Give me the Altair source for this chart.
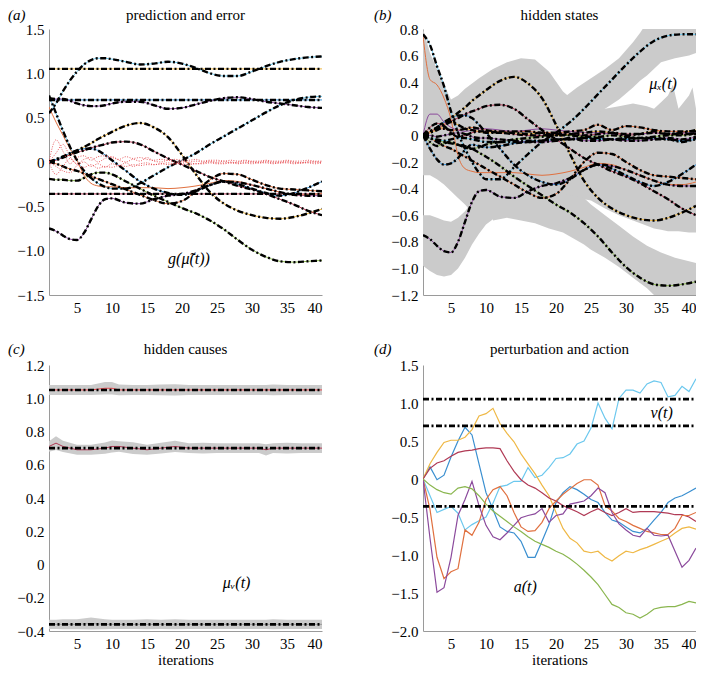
import altair as alt
import pandas as pd

FONT = "Liberation Serif"
GRAY = "#cbcbcb"
BLUE = "#3a8fd0"
ORANGE = "#e0703f"
YELLOW = "#efb845"
PURPLE = "#8b4a9c"
GREEN = "#8ab64f"
CYAN = "#6cc8ee"
MAROON = "#b03a55"
RED = "#e5484d"

W, H = 273, 266
XT = [5, 10, 15, 20, 25, 30, 35, 40]

# ---------------- shared x grid for smooth state trajectories ----------------
X = [1, 2, 3, 4, 5, 6, 7, 8, 9, 10, 12, 14, 16, 18, 20, 22, 24, 26, 28, 30, 32, 34, 36, 38, 40]

# ---------------- (b) hidden states ----------------
B1 = [0.76, 0.68, 0.52, 0.37, 0.18, 0.02, -0.10, -0.20, -0.28, -0.33, -0.33, -0.24, -0.14, -0.05, 0.02, 0.10, 0.20, 0.31, 0.42, 0.53, 0.63, 0.71, 0.75, 0.76, 0.76]
B2 = [0.00, 0.03, 0.06, 0.09, 0.13, 0.17, 0.21, 0.26, 0.30, 0.34, 0.41, 0.44, 0.39, 0.28, 0.08, -0.14, -0.34, -0.47, -0.55, -0.60, -0.63, -0.64, -0.62, -0.58, -0.53]
B3 = [0.00, 0.02, 0.05, 0.08, 0.11, 0.13, 0.16, 0.18, 0.20, 0.22, 0.23, 0.20, 0.12, 0.04, -0.03, -0.10, -0.17, -0.22, -0.27, -0.31, -0.36, -0.42, -0.48, -0.55, -0.60]
B4 = [0.00, -0.02, -0.04, -0.05, -0.06, -0.07, -0.08, -0.10, -0.13, -0.16, -0.23, -0.31, -0.38, -0.45, -0.52, -0.58, -0.66, -0.76, -0.88, -0.99, -1.07, -1.12, -1.13, -1.12, -1.10]
B5 = [-0.75, -0.78, -0.83, -0.87, -0.88, -0.80, -0.65, -0.50, -0.42, -0.41, -0.46, -0.47, -0.42, -0.38, -0.36, -0.32, -0.26, -0.22, -0.23, -0.26, -0.30, -0.34, -0.37, -0.38, -0.38]
B6 = [0.00, 0.03, 0.06, 0.10, 0.13, 0.15, 0.15, 0.13, 0.08, 0.02, -0.10, -0.22, -0.30, -0.35, -0.37, -0.33, -0.26, -0.22, -0.25, -0.30, -0.35, -0.38, -0.35, -0.29, -0.22]
B7 = [0.00, -0.02, -0.05, -0.08, -0.10, -0.13, -0.16, -0.19, -0.22, -0.25, -0.31, -0.37, -0.43, -0.47, -0.44, -0.33, -0.20, -0.13, -0.14, -0.20, -0.26, -0.30, -0.31, -0.32, -0.33]
B8 = [0.00, -0.10, -0.18, -0.22, -0.21, -0.17, -0.11, -0.07, -0.08, -0.09, -0.08, -0.06, -0.05, -0.04, -0.03, -0.03, -0.02, -0.02, -0.03, -0.03, -0.02, -0.02, -0.03, -0.04, -0.03]
N1 = [0.00, 0.03, 0.05, 0.05, 0.04, 0.04, 0.05, 0.06, 0.05, 0.04, 0.03, 0.03, 0.03, 0.02, 0.02, 0.03, 0.04, 0.08, 0.04, 0.07, 0.06, 0.04, 0.03, 0.03, 0.03]
N2 = [0.00, -0.02, -0.03, -0.04, -0.03, -0.02, -0.02, -0.03, -0.04, -0.05, -0.05, -0.05, -0.04, -0.04, -0.03, -0.03, -0.02, -0.03, -0.03, -0.02, -0.02, -0.03, -0.03, -0.05, -0.02]
N3 = [0.00, 0.06, 0.09, 0.07, 0.02, -0.01, 0.00, 0.02, 0.03, 0.03, 0.02, 0.01, 0.00, 0.00, 0.01, 0.01, 0.00, 0.01, 0.02, 0.01, 0.01, 0.02, 0.01, 0.01, 0.01]
N4 = [0.00, -0.05, -0.08, -0.06, -0.05, -0.07, -0.09, -0.10, -0.09, -0.07, -0.05, -0.03, -0.02, -0.01, 0.00, 0.00, -0.01, -0.01, 0.00, -0.01, -0.02, -0.01, 0.00, 0.00, 0.02]
N5 = [0.00, 0.02, 0.04, 0.07, 0.10, 0.08, 0.05, 0.04, 0.03, 0.02, 0.02, 0.02, 0.01, 0.02, 0.00, 0.01, 0.02, 0.03, 0.02, 0.00, 0.01, 0.03, 0.01, 0.02, 0.04]
N6 = [0.00, 0.00, -0.01, 0.00, 0.01, 0.02, 0.01, -0.01, -0.02, -0.02, -0.03, -0.04, -0.05, -0.05, -0.04, -0.02, -0.04, -0.04, -0.03, -0.04, -0.04, -0.03, -0.02, -0.03, -0.01]
O1 = [0.75, 0.42, 0.38, 0.28, 0.12, -0.15, -0.25, -0.27, -0.28, -0.28, -0.28, -0.28, -0.29, -0.30, -0.29, -0.27, -0.24, -0.21, -0.22, -0.26, -0.30, -0.34, -0.37, -0.37, -0.35]
P1 = [0.00, 0.16, 0.16, 0.10, 0.06, 0.04, 0.03, 0.04, 0.05, 0.05, 0.04, 0.03, 0.04, 0.05, 0.04, 0.03, 0.02, 0.02, 0.01, 0.00, 0.01, 0.02, 0.01, 0.02, 0.02]

# conditional uncertainty (grey) regions in (b): x, lower, upper
ZX = [1, 2, 3, 4, 5, 6, 7, 8, 9, 11, 13, 15, 17, 19, 21, 23, 25, 27, 29, 31, 33, 34, 35, 36, 36.7, 37.5, 39, 39.5, 40]
ZU = [0.80, 0.62, 0.50, 0.38, 0.27, 0.30, 0.35, 0.39, 0.43, 0.50, 0.55, 0.58, 0.57, 0.48, 0.33, 0.24, 0.20, 0.20, 0.22, 0.24, 0.22, 0.20, 0.25, 0.30, 0.38, 0.20, 0.30, 0.36, 0.20]
ZL = [-0.30, -0.30, -0.33, -0.37, -0.42, -0.47, -0.52, -0.58, -0.60, -0.58, -0.55, -0.52, -0.50, -0.48, -0.47, -0.47, -0.49, -0.55, -0.60, -0.64, -0.68, -0.70, -0.71, -0.72, -0.72, -0.72, -0.73, -0.73, -0.73]
GX = [11, 13, 15, 17, 19, 21, 23, 24, 25, 27, 29, 31, 33, 35, 37, 40]
GU = [-0.40, -0.40, -0.40, -0.40, -0.42, -0.44, -0.46, -0.47, -0.52, -0.60, -0.68, -0.76, -0.83, -0.88, -0.92, -0.96]
GL = [-0.64, -0.62, -0.64, -0.66, -0.70, -0.73, -0.79, -0.82, -0.86, -0.92, -0.99, -1.07, -1.15, -1.25, -1.30, -1.30]
PX = [1, 2, 3, 4, 5, 6, 7, 8, 9, 10, 11, 12]
PU = [-0.60, -0.60, -0.62, -0.64, -0.65, -0.62, -0.57, -0.50, -0.42, -0.38, -0.40, -0.45]
PL = [-0.98, -1.02, -1.05, -1.06, -1.05, -1.00, -0.92, -0.82, -0.74, -0.67, -0.63, -0.62]
TX = [19, 21, 23, 25, 27, 29, 31, 32, 33, 35, 37, 39, 40]
TU = [0.10, 0.28, 0.36, 0.43, 0.50, 0.58, 0.70, 0.77, 0.85, 0.90, 0.90, 0.90, 0.90]
TL = [-0.05, 0.00, 0.05, 0.14, 0.20, 0.27, 0.36, 0.41, 0.45, 0.55, 0.58, 0.60, 0.62]

# ---------------- (a) prediction and error ----------------
A1 = [0.55, 0.66, 0.80, 0.92, 1.02, 1.10, 1.15, 1.17, 1.17, 1.16, 1.13, 1.10, 1.11, 1.13, 1.11, 1.06, 1.00, 0.97, 0.97, 1.02, 1.08, 1.13, 1.16, 1.18, 1.19]
A2 = [0.72, 0.71, 0.71, 0.69, 0.66, 0.64, 0.63, 0.63, 0.64, 0.66, 0.68, 0.68, 0.64, 0.60, 0.61, 0.65, 0.69, 0.72, 0.73, 0.71, 0.68, 0.66, 0.64, 0.62, 0.61]
A3 = [0.75, 0.55, 0.35, 0.17, 0.02, -0.10, -0.18, -0.24, -0.28, -0.30, -0.30, -0.24, -0.15, -0.06, 0.02, 0.10, 0.20, 0.29, 0.38, 0.47, 0.56, 0.64, 0.70, 0.73, 0.74]
AG = [-0.19, -0.20, -0.20, -0.21, -0.21, -0.18, -0.14, -0.12, -0.12, -0.14, -0.22, -0.30, -0.38, -0.45, -0.52, -0.58, -0.66, -0.76, -0.88, -0.99, -1.07, -1.12, -1.13, -1.12, -1.11]
AO = [0.62, 0.45, 0.30, 0.15, 0.02, -0.15, -0.24, -0.27, -0.28, -0.28, -0.29, -0.29, -0.29, -0.30, -0.29, -0.27, -0.24, -0.21, -0.22, -0.26, -0.30, -0.34, -0.37, -0.37, -0.35]
CONST_X = [1, 40]
V1 = [1.05, 1.05]
V2 = [0.70, 0.70]
V3 = [-0.36, -0.36]

EX = list(range(1, 41))
E1 = [0, 0.25, 0.12, -0.02, 0.05, 0.07, 0.02, 0.06, 0.07, 0.05, 0.03, 0.06, 0.04, 0.05, 0.03, 0.02, 0.03, 0.02, 0.03, 0.02, 0.02, 0.03, 0.01, 0.02, 0.02, 0.01, 0.02, 0.01, 0.02, 0.01, 0.01, 0.02, 0.01, 0.01, 0.02, 0.01, 0.01, 0.02, 0.01, 0.01]
E2 = [0, -0.14, -0.05, 0.04, -0.03, -0.06, -0.03, -0.07, -0.05, -0.06, -0.04, -0.05, -0.03, -0.04, -0.03, -0.03, -0.02, -0.03, -0.02, -0.02, -0.03, -0.02, -0.02, -0.01, -0.02, -0.02, -0.01, -0.02, -0.01, -0.02, -0.01, -0.01, -0.02, -0.01, -0.01, -0.02, -0.01, -0.01, -0.02, -0.01]
E3 = [0, 0.10, 0.20, 0.06, -0.02, 0.03, 0.05, 0.00, 0.04, 0.06, 0.02, 0.00, 0.03, 0.01, 0.05, 0.01, 0.00, 0.02, 0.00, 0.01, 0.00, 0.01, 0.00, 0.01, 0.00, 0.01, -0.01, 0.00, 0.01, 0.00, 0.00, 0.01, 0.00, 0.00, 0.01, 0.00, -0.01, 0.00, 0.00, 0.00]
E4 = [0, -0.05, -0.10, -0.12, -0.04, 0.00, -0.05, -0.02, -0.06, -0.02, -0.04, -0.01, -0.05, -0.02, -0.01, -0.03, -0.02, -0.01, -0.02, 0.00, -0.01, -0.02, -0.01, 0.00, -0.01, -0.01, 0.00, -0.01, -0.01, 0.00, -0.01, 0.00, -0.01, -0.01, 0.00, -0.01, -0.01, 0.00, 0.00, -0.01]

# ---------------- (c) hidden causes ----------------
CX = [1, 2, 3, 5, 7, 9, 10, 11, 13, 15, 17, 19, 21, 23, 25, 27, 29, 31, 32, 33, 35, 37, 40]
C1 = [1.05, 1.05, 1.05, 1.05, 1.05, 1.06, 1.06, 1.05, 1.05, 1.05, 1.05, 1.05, 1.05, 1.05, 1.05, 1.05, 1.05, 1.05, 1.05, 1.05, 1.05, 1.05, 1.05]
C2 = [0.71, 0.73, 0.71, 0.69, 0.69, 0.70, 0.71, 0.71, 0.70, 0.69, 0.70, 0.71, 0.70, 0.70, 0.70, 0.70, 0.70, 0.70, 0.69, 0.70, 0.70, 0.70, 0.70]
C3 = [-0.36, -0.36, -0.36, -0.36, -0.355, -0.36, -0.36, -0.36, -0.36, -0.36, -0.36, -0.36, -0.36, -0.36, -0.36, -0.36, -0.36, -0.36, -0.36, -0.36, -0.36, -0.36, -0.36]
HW1 = [0.030, 0.030, 0.030, 0.030, 0.030, 0.038, 0.038, 0.032, 0.030, 0.030, 0.032, 0.034, 0.030, 0.030, 0.030, 0.030, 0.030, 0.030, 0.030, 0.032, 0.030, 0.030, 0.030]
HW2 = [0.032, 0.042, 0.034, 0.030, 0.030, 0.034, 0.036, 0.032, 0.036, 0.030, 0.032, 0.034, 0.030, 0.032, 0.030, 0.030, 0.030, 0.030, 0.034, 0.030, 0.032, 0.030, 0.030]
HW3 = [0.028, 0.028, 0.030, 0.030, 0.036, 0.030, 0.028, 0.028, 0.028, 0.030, 0.028, 0.030, 0.028, 0.028, 0.028, 0.028, 0.028, 0.028, 0.028, 0.030, 0.028, 0.028, 0.028]

# ---------------- (d) perturbation and action ----------------
DX = list(range(1, 41))
D_CYAN = [0, -0.22, -0.44, -0.40, -0.36, -0.45, -0.67, -0.60, -0.55, -0.50, -0.32, -0.10, -0.08, -0.03, -0.03, 0.15, 0.02, 0.05, 0.15, 0.27, 0.28, 0.33, 0.46, 0.50, 0.67, 1.00, 0.80, 0.66, 1.06, 1.17, 1.17, 1.13, 1.25, 1.29, 1.27, 1.08, 1.10, 1.22, 1.15, 1.32]
D_BLUE = [0, 0.16, -0.01, 0.05, 0.29, 0.50, 0.68, 0.58, 0.20, -0.18, -0.40, -0.63, -0.69, -0.71, -0.82, -1.03, -1.03, -0.82, -0.60, -0.31, -0.18, -0.10, -0.14, -0.20, -0.27, -0.31, -0.44, -0.54, -0.57, -0.63, -0.69, -0.71, -0.65, -0.54, -0.44, -0.31, -0.25, -0.22, -0.17, -0.12]
D_YELLOW = [0, 0.20, 0.35, 0.48, 0.51, 0.51, 0.55, 0.65, 0.83, 0.86, 0.93, 0.73, 0.60, 0.49, 0.33, 0.20, 0.07, -0.08, -0.22, -0.44, -0.65, -0.78, -0.84, -0.95, -0.97, -0.95, -1.03, -1.08, -1.01, -0.95, -0.97, -0.93, -0.90, -0.86, -0.82, -0.78, -0.71, -0.65, -0.63, -0.66]
D_MAROON = [0, 0.14, 0.21, 0.24, 0.30, 0.35, 0.37, 0.38, 0.40, 0.41, 0.41, 0.40, 0.24, 0.10, -0.01, -0.08, -0.12, -0.18, -0.25, -0.29, -0.35, -0.39, -0.43, -0.48, -0.43, -0.39, -0.44, -0.48, -0.44, -0.39, -0.44, -0.43, -0.43, -0.43, -0.44, -0.45, -0.47, -0.47, -0.50, -0.56]
D_ORANGE = [0, -0.40, -1.03, -1.31, -1.22, -1.18, -0.67, -0.74, -0.57, -0.27, -0.14, -0.10, -0.22, -0.44, -0.63, -0.69, -0.68, -0.57, -0.39, -0.29, -0.20, -0.13, -0.06, -0.01, -0.01, -0.08, -0.35, -0.42, -0.52, -0.56, -0.61, -0.65, -0.69, -0.71, -0.73, -0.73, -0.65, -0.48, -0.48, -0.44]
D_PURPLE = [0, -0.78, -1.49, -1.43, -1.03, -0.48, -0.27, -0.03, -0.35, -0.61, -0.76, -0.80, -0.71, -0.61, -0.51, -0.48, -0.46, -0.39, -0.57, -0.48, -0.46, -0.33, -0.31, -0.29, -0.22, -0.12, -0.18, -0.44, -0.59, -0.67, -0.74, -0.76, -0.65, -0.74, -0.75, -0.74, -0.95, -1.16, -1.07, -0.91]
D_GREEN = [0, -0.08, -0.14, -0.18, -0.20, -0.12, -0.10, -0.13, -0.22, -0.33, -0.42, -0.49, -0.56, -0.63, -0.69, -0.76, -0.82, -0.86, -0.90, -0.95, -0.99, -1.05, -1.12, -1.20, -1.29, -1.39, -1.52, -1.65, -1.69, -1.76, -1.78, -1.83, -1.78, -1.71, -1.69, -1.68, -1.68, -1.65, -1.61, -1.63]


def long_lines(series):
    rows = []
    for name, (xs, ys, col) in series.items():
        for x, y in zip(xs, ys):
            rows.append({"x": x, "y": y, "s": name, "c": col})
    return pd.DataFrame(rows)


def long_bands(bands):
    rows = []
    for name, (xs, lo, hi) in bands.items():
        for x, l, h in zip(xs, lo, hi):
            rows.append({"x": x, "lo": l, "hi": h, "s": name})
    return pd.DataFrame(rows)


LABEL_EXPR = "datum.value == 0 ? '0' : format(datum.value, '.1f')"


def xenc(title=None):
    return alt.X("x:Q", scale=alt.Scale(domain=[1, 40], nice=False, zero=False),
                 axis=alt.Axis(values=XT, title=title, format="d", labelFont=FONT, titleFont=FONT))


def yenc(field, dom, vals):
    return alt.Y(f"{field}:Q", scale=alt.Scale(domain=dom, nice=False, zero=False),
                 axis=alt.Axis(values=vals, title=None, labelExpr=LABEL_EXPR, labelFont=FONT))


def thin(df, xe, ye, width=1.0, interp="monotone"):
    return alt.Chart(df).mark_line(strokeWidth=width, interpolate=interp, clip=True).encode(
        x=xe, y=ye, color=alt.Color("c:N", scale=None), detail="s:N")


def dashdot(df, xe, ye, width=2.4, interp="monotone"):
    return alt.Chart(df).mark_line(color="black", strokeWidth=width, strokeDash=[6, 2.5, 2, 2.5],
                                   interpolate=interp, clip=True).encode(x=xe, y=ye, detail="s:N")


def bands(df, xe, ye_lo):
    return alt.Chart(df).mark_area(color=GRAY, opacity=1, interpolate="linear", clip=True).encode(
        x=xe, y=ye_lo, y2=alt.Y2("hi:Q"), detail="s:N")


def heading(title, tag, tag_x, y):
    d = pd.DataFrame({"k": [0]})
    t1 = alt.Chart(d).mark_text(text=title, font=FONT, fontSize=15, align="center", baseline="middle",
                                color="black").encode(x=alt.value(W / 2), y=alt.value(y))
    t2 = alt.Chart(d).mark_text(text=tag, font=FONT, fontSize=15, fontStyle="italic", align="left",
                                baseline="middle", color="black").encode(x=alt.value(tag_x), y=alt.value(y))
    return [t1, t2]


def mathlabel(txt, x, y, xe, ye):
    d = pd.DataFrame({"x": [x], "y": [y], "t": [txt]})
    return alt.Chart(d).mark_text(font=FONT, fontSize=16, fontStyle="italic", color="black").encode(
        x=xe, y=ye, text="t:N")


# ---------- panel (a) ----------
xa = xenc()
ya = yenc("y", [-1.5, 1.5], [-1.5, -1.0, -0.5, 0, 0.5, 1.0, 1.5])
a_series = {
    "c1": (CONST_X, V1, YELLOW), "c2": (CONST_X, V2, BLUE), "c3": (CONST_X, V3, MAROON),
    "A1": (X, A1, CYAN), "A2": (X, A2, PURPLE), "A3": (X, A3, CYAN), "B2": (X, B2, YELLOW),
    "B3": (X, B3, MAROON), "AG": (X, AG, GREEN), "B5": (X, B5, PURPLE), "B6": (X, B6, BLUE),
    "B7": (X, B7, ORANGE),
}
a_thin_only = {"AO": (X, AO, ORANGE)}
a_err = {"E1": (EX, E1, RED), "E2": (EX, E2, RED), "E3": (EX, E3, RED), "E4": (EX, E4, RED)}
df_a = long_lines(a_series)
df_a_thin = long_lines({**a_series, **a_thin_only})
df_a_err = long_lines(a_err)
err_layer = alt.Chart(df_a_err).mark_line(color=RED, strokeWidth=0.9, strokeDash=[1, 1.5],
                                          interpolate="monotone", clip=True).encode(x=xa, y=ya, detail="s:N")
panel_a = alt.layer(
    thin(df_a_thin, xa, ya),
    dashdot(df_a, xa, ya),
    err_layer,
    mathlabel("g(μ̃(t))", 21, -1.09, xa, ya),
    *heading("prediction and error", "(a)", -41, -14),
).properties(width=W, height=H)

# ---------- panel (b) ----------
xb = xenc()
yb = yenc("y", [-1.2, 0.8], [-1.2, -1.0, -0.8, -0.6, -0.4, -0.2, 0, 0.2, 0.4, 0.6, 0.8])
yb_lo = yenc("lo", [-1.2, 0.8], [-1.2, -1.0, -0.8, -0.6, -0.4, -0.2, 0, 0.2, 0.4, 0.6, 0.8])
b_series = {
    "B1": (X, B1, CYAN), "B2": (X, B2, YELLOW), "B3": (X, B3, MAROON), "B4": (X, B4, GREEN),
    "B5": (X, B5, PURPLE), "B6": (X, B6, BLUE), "B7": (X, B7, ORANGE), "B8": (X, B8, BLUE),
    "N1": (X, N1, ORANGE), "N2": (X, N2, CYAN), "N3": (X, N3, MAROON), "N4": (X, N4, GREEN),
    "N5": (X, N5, YELLOW), "N6": (X, N6, PURPLE),
}
b_thin_only = {"O1": (X, O1, ORANGE), "P1": (X, P1, PURPLE)}
df_b = long_lines(b_series)
df_b_thin = long_lines({**b_series, **b_thin_only})
df_b_band = long_bands({"Z": (ZX, ZL, ZU), "G": (GX, GL, GU), "P": (PX, PL, PU), "T": (TX, TL, TU)})
panel_b = alt.layer(
    bands(df_b_band, xb, yb_lo),
    thin(df_b_thin, xb, yb),
    dashdot(df_b, xb, yb),
    mathlabel("μₓ(t)", 35.3, 0.39, xb, yb),
    *heading("hidden states", "(b)", -49, -14),
).properties(width=W, height=H)

# ---------- panel (c) ----------
xc = xenc("iterations")
yc = yenc("y", [-0.4, 1.2], [-0.4, -0.2, 0, 0.2, 0.4, 0.6, 0.8, 1.0, 1.2])
yc_lo = yenc("lo", [-0.4, 1.2], [-0.4, -0.2, 0, 0.2, 0.4, 0.6, 0.8, 1.0, 1.2])
c_band_rows = {}
for name, cs, hw in (("c1", C1, HW1), ("c2", C2, HW2), ("c3", C3, HW3)):
    c_band_rows[name] = (CX, [v - h for v, h in zip(cs, hw)], [v + h for v, h in zip(cs, hw)])
df_c_band = long_bands(c_band_rows)
df_c_thin = long_lines({"c1": (CX, C1, RED), "c2": (CX, C2, MAROON), "c3": (CX, C3, "#9a9a9a")})
df_c = long_lines({"c1": (CONST_X, V1, "black"), "c2": (CONST_X, V2, "black"), "c3": (CONST_X, V3, "black")})
panel_c = alt.layer(
    bands(df_c_band, xc, yc_lo),
    thin(df_c_thin, xc, yc, interp="linear"),
    dashdot(df_c, xc, yc, width=2.6, interp="linear"),
    mathlabel("μᵥ(t)", 27.8, -0.11, xc, yc),
    *heading("hidden causes", "(c)", -41, -16),
).properties(width=W, height=H)

# ---------- panel (d) ----------
xd = xenc("iterations")
yd = yenc("y", [-2.0, 1.5], [-2.0, -1.5, -1.0, -0.5, 0, 0.5, 1.0, 1.5])
df_d_thin = long_lines({
    "cyan": (DX, D_CYAN, CYAN), "blue": (DX, D_BLUE, BLUE), "yellow": (DX, D_YELLOW, YELLOW),
    "maroon": (DX, D_MAROON, MAROON), "orange": (DX, D_ORANGE, ORANGE), "purple": (DX, D_PURPLE, PURPLE),
    "green": (DX, D_GREEN, GREEN),
})
df_d = long_lines({"c1": (CONST_X, V1, "black"), "c2": (CONST_X, V2, "black"), "c3": (CONST_X, V3, "black")})
panel_d = alt.layer(
    thin(df_d_thin, xd, yd, width=1.2, interp="linear"),
    dashdot(df_d, xd, yd, width=2.8, interp="linear"),
    mathlabel("v(t)", 35.1, 0.87, xd, yd),
    mathlabel("a(t)", 15.6, -1.42, xd, yd),
    *heading("perturbation and action", "(d)", -49, -16),
).properties(width=W, height=H)

chart = alt.concat(
    panel_a, panel_b, panel_c, panel_d,
    columns=2, spacing={"row": 70, "column": 101}, bounds="flush",
).properties(padding=0).configure(font=FONT).configure_view(stroke=None).configure_text(font=FONT).configure_axis(
    domainColor="#9a9a9a", domainWidth=1, ticks=False, grid=False,
    labelFont=FONT, labelFontSize=15, labelColor="black", labelPadding=5,
    titleFont=FONT, titleFontSize=15, titleFontWeight="normal", titleColor="black", titlePadding=1,
)

chart.save("out.html", embed_options={"renderer": "svg", "actions": False})
